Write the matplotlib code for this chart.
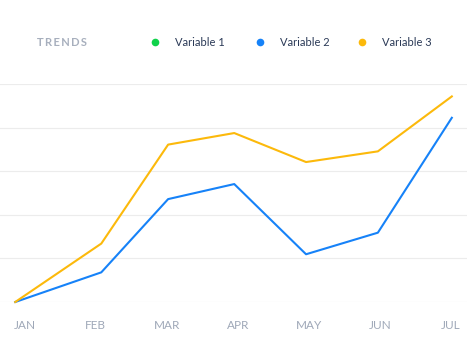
import matplotlib
matplotlib.use("Agg")
import matplotlib.pyplot as plt
from matplotlib.lines import Line2D

months = ["JAN", "FEB", "MAR", "APR", "MAY", "JUN", "JUL"]
# point positions along the month axis (points are not exactly on the labels)
point_x = [-0.13, 1.08, 2.02, 2.95, 3.96, 4.97, 6.01]
variable2 = [0, 13.6, 47.2, 54.1, 21.9, 31.8, 84.5]
variable3 = [0, 26.8, 72.2, 77.5, 64.2, 69.1, 94.3]
legend_names = ["Variable 1", "Variable 2", "Variable 3"]
colors = ["#10d24b", "#1682f8", "#fcb90b"]

plt.rcParams['font.family'] = ['Lato', 'DejaVu Sans']

W, H = 467, 350
fig = plt.figure(figsize=(W / 100, H / 100), dpi=100)

# axes spans gridline 0 (y=302px) to gridline 100 (y=84px)
ax = fig.add_axes([0, (H - 302) / H, 1, (302 - 84) / H])
ax.plot(point_x, variable2, color=colors[1], lw=1.5, clip_on=False, zorder=3)
ax.plot(point_x, variable3, color=colors[2], lw=1.5, clip_on=False, zorder=3)

ax.set_xlim(-24.5 / 71.1, (467 - 24.5) / 71.1)
ax.set_ylim(0, 100)
ax.set_yticks([0, 20, 40, 60, 80, 100])
ax.set_yticklabels([])
ax.yaxis.grid(True, color="#ececec", lw=0.8)
ax.set_axisbelow(True)
ax.set_xticks(range(len(months)))
ax.set_xticklabels(months, color="#9fa8b8", fontsize=8.5)
ax.tick_params(length=0, pad=13)
ax.tick_params(axis="y", left=False)
for s in ax.spines.values():
    s.set_visible(False)

# header
fig.text(37 / W, 1 - 42 / H, "\u2009".join("TRENDS"), color="#a7afbd",
         fontsize=8, fontweight="bold", va="center", ha="left")
dot_x = [155, 260, 362]
for name, c, dx in zip(legend_names, colors, dot_x):
    fig.add_artist(Line2D([dx / W], [1 - 42 / H], marker="o", markersize=5.5,
                          color=c, markeredgewidth=0, transform=fig.transFigure))
    fig.text((dx + 20) / W, 1 - 42 / H, name, color="#2b3a57", fontsize=8,
             va="center", ha="left")

fig.savefig("out.png", dpi=100)
